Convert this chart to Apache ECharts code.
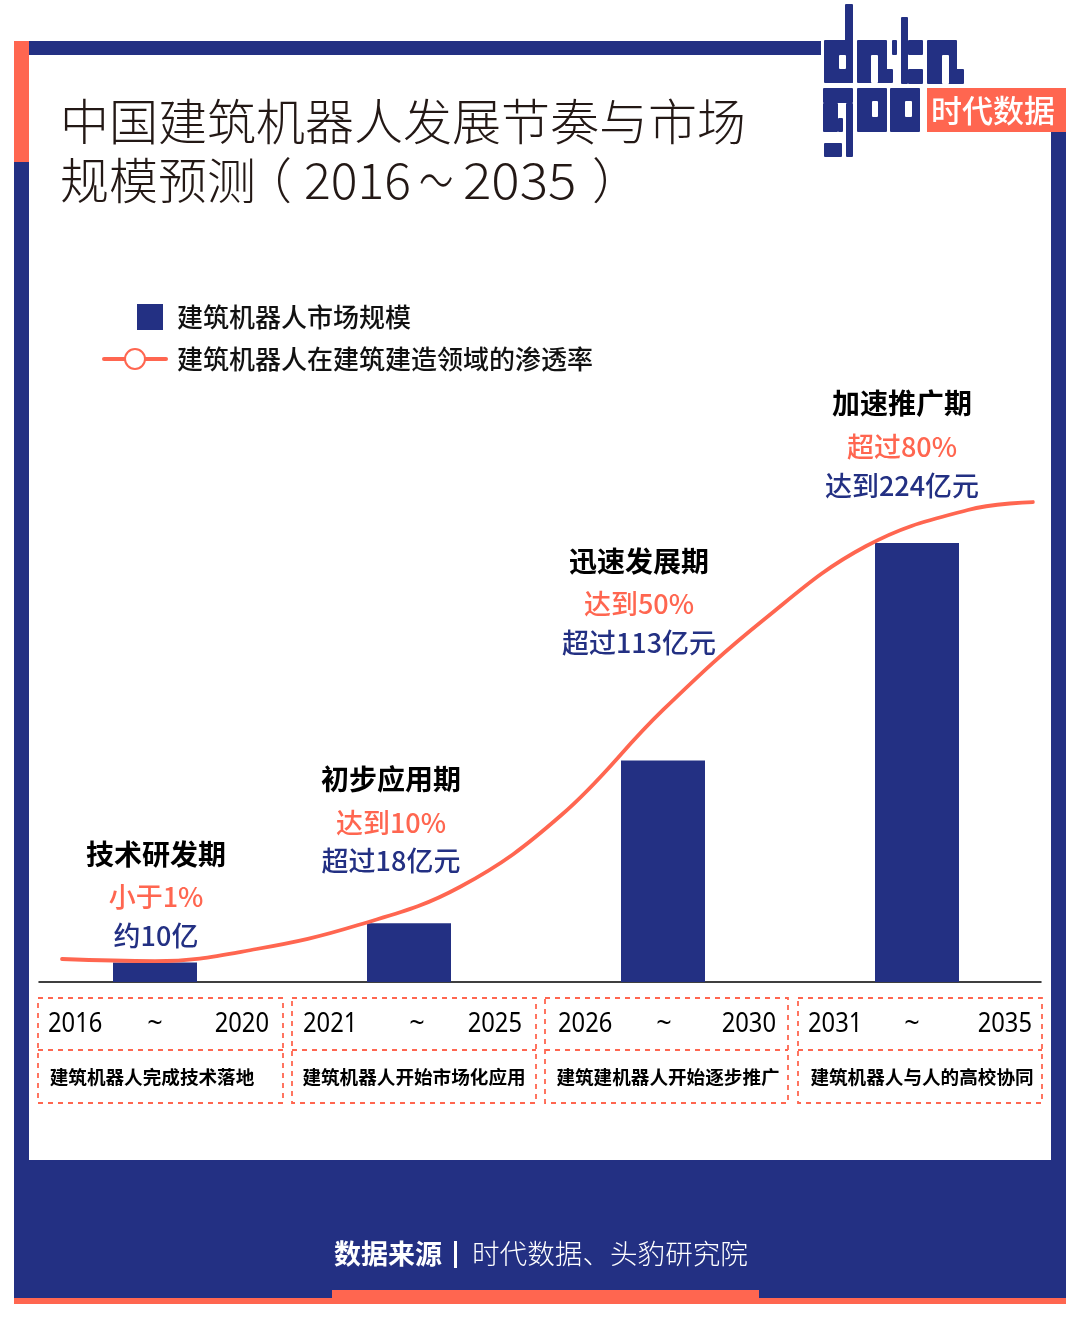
<!DOCTYPE html>
<html><head><meta charset="utf-8">
<style>html,body{margin:0;padding:0;background:#fff}#c{width:1080px;height:1320px}</style>
<script src="https://cdn.jsdelivr.net/npm/echarts@6/dist/echarts.min.js"></script>
</head><body><div id="c"></div>
<script>
const NAVY='#233083', ORANGE='#FF6650', CJK='"Noto Sans CJK SC","Noto Sans",sans-serif', LATIN='"Noto Sans",sans-serif';
// ---- data
const titleLine1='中国建筑机器人发展节奏与市场';
const titleLine2=['规模预测','（','2016','～','2035','）'];
const periods=['2016-2020','2021-2025','2026-2030','2031-2035'];
const barName='建筑机器人市场规模';
const barValues=[10,30,113,224];
const lineName='建筑机器人在建筑建造领域的渗透率';
const lineYears=[2016.17,2018,2020,2022,2024,2026,2028,2030,2032,2034,2035.28];
const lineRates=[3.95,3.6,5.67,9.79,16.32,28.69,46.74,62.37,74.91,81.1,82.47];
const stageNames=['技术研发期','初步应用期','迅速发展期','加速推广期'];
const stageRates=['小于1%','达到10%','达到50%','超过80%'];
const stageSizes=['约10亿','超过18亿元','超过113亿元','达到224亿元'];
const yearStarts=['2016','2021','2026','2031'];
const yearEnds=['2020','2025','2030','2035'];
const stageNotes=['建筑机器人完成技术落地','建筑机器人开始市场化应用','建筑建机器人开始逐步推广','建筑机器人与人的高校协同'];
const sourceLabel='数据来源';
const sourceText='时代数据、头豹研究院';
const logoText='时代数据';

// ---- layout
const stageX=[156,391,639,902], nameY=[854,779,561,403], rateY=[897,823,604,447], sizeY=[936,861,643,486];
const startX=[48,303,558,808], tildeX=[155,417,664,912], endX=[269,522,776,1032], noteX=[152,414,668,922];
const cells=[[38,283],[292,536],[545,788],[798,1042]];
const title2X=[60,243,304,419,463,592];
const title2Scale=[1,1,1,0.7,1.06,1];
const g=[];
const rect=(x0,y0,x1,y1,fill,r)=>g.push({type:'rect',shape:{x:x0,y:y0,width:x1-x0,height:y1-y0,r:r||0},style:{fill},silent:true});
const text=(x,y,t,o,extra)=>g.push(Object.assign({type:'text',x,y,silent:true,style:Object.assign({text:t,fontFamily:CJK,verticalAlign:'middle',fill:'#000'},o)},extra||{}));
// frame
rect(14,41,29,1304,NAVY); rect(14,41,29,162,ORANGE);
rect(29,41,821,55,NAVY);
rect(1051,132,1066,1304,NAVY);
rect(14,1160,1066,1304,NAVY);
rect(14,1298,1066,1304,ORANGE); rect(332,1290,759,1304,ORANGE);
// logo
const LOGO=[[845,4,853,83],[824,40,853,83], // d
 [857,40,887,83],[878,69,893,83], // a
 [892,40,897,55],[901,17,908,84],[908,40,923,55],[908,69,923,84], // t
 [927,40,957,84],[949,69,964,84], // a
 [823,88,853,103],[823,103,838,132],[838,118,843,132],[846,103,853,157],[824,143,842,157], // g
 [857,88,887,132], // o
 [890,88,920,132]]; // o
const HOLES=[[839,55,846,69],[871,55,878,83],[942,55,949,84],[872,101,878,117],[905,101,912,117]];
LOGO.forEach(a=>rect(a[0],a[1],a[2],a[3],NAVY,1));
HOLES.forEach(a=>rect(a[0],a[1],a[2],a[3],'#fff',1));
rect(927,88,1066,132,ORANGE);
text(993,110,logoText,{fontSize:31,fontWeight:500,fill:'#fff',align:'center'});
// title
const titleStyle={fontSize:49,fontWeight:300,fill:'#231815'};
text(60,121,titleLine1,titleStyle);
titleLine2.forEach((t,i)=>text(title2X[i],180,t,Object.assign({},titleStyle,(i==2||i==4)?{fontSize:50}:{}),{scaleX:title2Scale[i]}));
// annotations
stageNames.forEach((t,i)=>{
 text(stageX[i],nameY[i],t,{fontSize:28,fontWeight:600,fill:'#000',align:'center'});
 text(stageX[i],rateY[i],stageRates[i],{fontSize:27,fontWeight:500,fill:ORANGE,align:'center'});
 text(stageX[i],sizeY[i],stageSizes[i],{fontSize:27,fontWeight:500,fill:NAVY,align:'center'});
 text(startX[i],1024.5,yearStarts[i],{fontSize:27,fontFamily:LATIN},{scaleX:0.88});
 text(tildeX[i],1024.5,'~',{fontSize:27,align:'center',fontFamily:LATIN});
 text(endX[i],1024.5,yearEnds[i],{fontSize:27,align:'right',fontFamily:LATIN},{scaleX:0.88});
 text(noteX[i],1077,stageNotes[i],{fontSize:18.6,fontWeight:700,align:'center'});
 const [a,b]=cells[i];
 const dash={stroke:ORANGE,lineWidth:1.8,lineDash:[5,5],fill:'none'};
 g.push({type:'rect',shape:{x:a,y:998,width:b-a,height:105},style:dash,silent:true});
 g.push({type:'line',shape:{x1:a,y1:1050,x2:b,y2:1050},style:dash,silent:true});
});
// footer
text(334,1254,sourceLabel,{fontSize:27,fontWeight:700,fill:'#fff'});
rect(454,1241,457,1268,'#fff');
text(472,1254,sourceText,{fontSize:27.6,fontWeight:300,fill:'#fff'});

const chart=echarts.init(document.getElementById('c'),null,{renderer:'canvas',width:1080,height:1320});
chart.setOption({
 animation:false,backgroundColor:'#fff',
 graphic:{elements:g},
 legend:[
  {data:[barName],left:137,top:304,itemWidth:26,itemHeight:26,padding:0,icon:'rect',textStyle:{fontFamily:CJK,fontSize:26,fontWeight:500,color:'#111',padding:[0,0,0,9]},selectedMode:false},
  {data:[lineName],left:102,top:346,itemWidth:62,itemHeight:25,padding:0,lineStyle:{width:4},itemStyle:{borderWidth:4},textStyle:{fontFamily:CJK,fontSize:26,fontWeight:500,color:'#111',padding:[0,0,0,6]},selectedMode:false}
 ],
 grid:[
  {left:28,width:1016,top:394,height:588},
  {left:39,width:1002,top:400,height:582}
 ],
 xAxis:[
  {type:'category',gridIndex:0,data:periods,axisLine:{show:false},axisTick:{show:false},axisLabel:{show:false}},
  {type:'value',gridIndex:1,min:2015.717,max:2035.44,axisLine:{show:true,onZero:false,lineStyle:{color:'#000',width:1.5}},axisTick:{show:false},axisLabel:{show:false},splitLine:{show:false}}
 ],
 yAxis:[
  {type:'value',gridIndex:0,min:0,max:300,show:false,splitLine:{show:false}},
  {type:'value',gridIndex:1,min:0,max:100,show:false,splitLine:{show:false}}
 ],
 series:[
  {name:barName,type:'bar',xAxisIndex:0,yAxisIndex:0,data:barValues,barWidth:84,itemStyle:{color:NAVY},z:2},
  {name:lineName,type:'line',xAxisIndex:1,yAxisIndex:1,data:lineYears.map((y,i)=>[y,lineRates[i]]),smooth:0.4,showSymbol:false,symbol:'emptyCircle',symbolSize:20,
   lineStyle:{color:ORANGE,width:3.8,cap:'round'},itemStyle:{color:ORANGE,borderWidth:3.5,borderColor:ORANGE},z:3}
 ]
});
</script></body></html>
